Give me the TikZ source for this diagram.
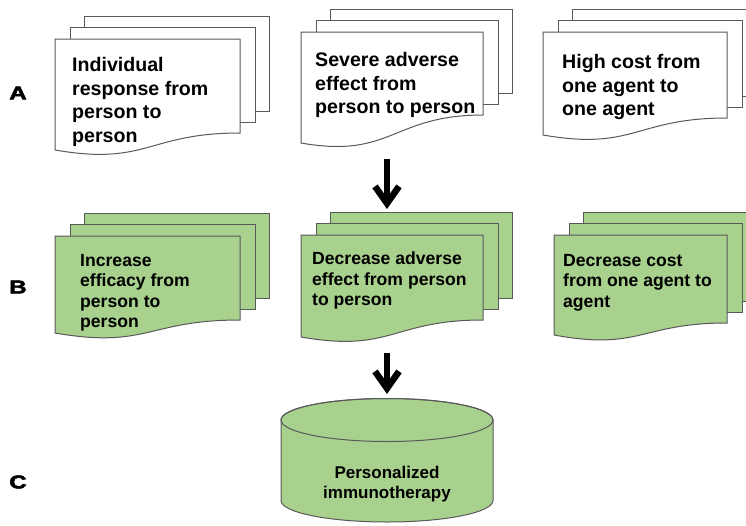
\documentclass[tikz,border=0pt]{standalone}
\usepackage{fontspec}
\setmainfont{Liberation Sans}
\newfontfamily\rotulofont[FakeBold=2.5]{Liberation Sans}
\usepackage{graphicx}
\usepackage{tikz}
\usetikzlibrary{arrows.meta}
\definecolor{folhaverde}{HTML}{A9D18E}
\definecolor{contorno}{HTML}{595959}

% pilha de folhas: #1 nome, #2 estilo, #3 esquerda, #4 topo, #5 largura, #6 base direita, #7 base esquerda
\newcommand{\pilha}[7]{%
  \draw[#2] (#3+29,#4-23) rectangle (#3+29+#5,#6-22);
  \draw[#2] (#3+15,#4-11.5) rectangle (#3+15+#5,#6-11);
  \draw[#2] (#3,#4) -- (#3+#5,#4) -- (#3+#5,#6)
     .. controls (#3+0.5*#5,#6) and (#3+0.5*#5,#7+16) .. (#3,#7) -- cycle;
  \coordinate (#1-topo) at (#3+86,#4-26);
  \coordinate (#1-base) at (#3+86,#7+16);
}

\begin{document}
\begin{tikzpicture}[
      x=1pt, y=1pt, yscale=-1,
      folha/.style={draw=contorno, line width=1pt, fill=white},
      folhav/.style={folha, fill=folhaverde},
      texto/.style={anchor=north west, align=left, inner sep=0pt,
                    font={\fontsize{19.6}{23.7}\selectfont\bfseries}},
      textob/.style={texto, font={\fontsize{17.6}{20.5}\selectfont\bfseries}},
      textoc/.style={align=center, inner sep=0pt,
                     font={\fontsize{17}{20}\selectfont\bfseries}},
      rotulo/.style={inner sep=0pt, font={\fontsize{18.5}{20}\selectfont\rotulofont\bfseries}},
      seta/.style={line width=6.5pt, -{Straight Barb[length=17pt,width=24pt]}}]
    \useasboundingbox (0,0) rectangle (746,525);
    \clip (0,0) rectangle (746,525);

    % linha A
    \pilha{pA1}{folha}{55}{39}{185}{133}{150}
    \pilha{pA2}{folha}{301}{32}{182}{115}{143}
    \pilha{pA3}{folha}{543}{32}{184}{118}{135}
    \node[texto] (a1) at (72,57) {Individual\\response from\\person to\\person};
    \node[texto] (a2) at (315,52) {Severe adverse\\effect from\\person to person};
    \node[texto] (a3) at (562,54) {High cost from\\one agent to\\one agent};

    % linha B
    \pilha{pB1}{folhav}{55}{236}{185}{320}{333}
    \pilha{pB2}{folhav}{301}{235}{182}{320}{337}
    \pilha{pB3}{folhav}{554}{235}{173}{323}{335}
    \node[textob] (b1) at (80,254) {Increase\\efficacy from\\person to\\person};
    \node[textob] (b2) at (312,252) {Decrease adverse\\effect from person\\to person};
    \node[textob] (b3) at (563,254) {Decrease cost\\from one agent to\\agent};

    % cilindro C
    \draw[folhav] (281,420) -- (281,500.5)
      arc[start angle=180, end angle=0, x radius=106, y radius=21.5]
      -- (493,420) arc[start angle=0, end angle=-180, x radius=106, y radius=21.5] -- cycle;
    \draw[folha, fill=none] (387,420) ellipse[x radius=106, y radius=21.5];
    \coordinate (cil-topo) at (387,394);
    \node[textoc] (c1) at (387,484) {Personalized\\immunotherapy};

    \node[rotulo] (la) at (18,93) {\scalebox{1.3}[1]{A}};
    \node[rotulo] (lb) at (18,287) {\scalebox{1.3}[1]{B}};
    \node[rotulo] (lc) at (18,482) {\scalebox{1.3}[1]{C}};

    \draw[seta] (pA2-base) -- (pB2-topo);
    \draw[seta] (pB2-base) -- (cil-topo);
  \end{tikzpicture}
\end{document}
